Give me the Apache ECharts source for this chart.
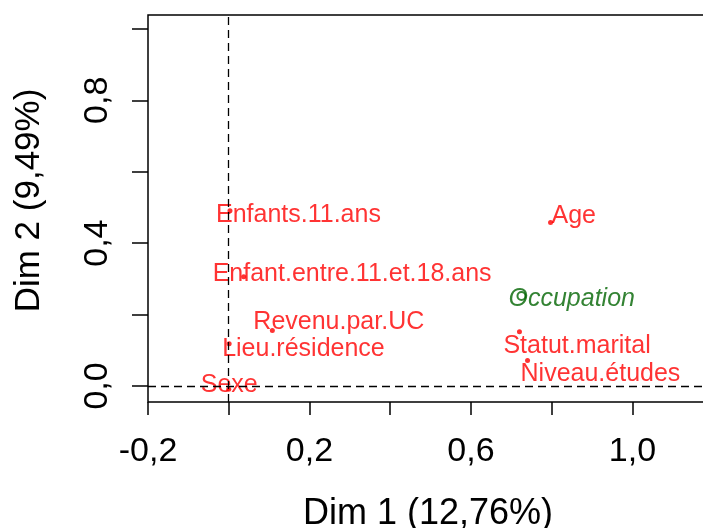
<!DOCTYPE html>
<html>
<head>
<meta charset="utf-8">
<script src="https://cdn.jsdelivr.net/npm/echarts@6/dist/echarts.min.js"></script>
<style>
  html, body { margin: 0; padding: 0; background: #fff; }
  #chart { width: 703px; height: 528px; }
</style>
</head>
<body>
<div id="chart"></div>
<script>
// active variables (coordinates on Dim 1 / Dim 2)
const varNames = ['Enfants.11.ans', 'Enfant.entre.11.et.18.ans', 'Revenu.par.UC', 'Lieu.résidence',
  'Sexe', 'Age', 'Statut.marital', 'Niveau.études']
const dim1 = [0.003, 0.037, 0.108, 0.001, 0.000, 0.797, 0.720, 0.740]
const dim2 = [0.491, 0.306, 0.155, 0.118, -0.009, 0.458, 0.152, 0.071]

// supplementary variable
const suppNames = ['Occupation']
const suppDim1 = [0.725]
const suppDim2 = [0.252]

const xTicks = [-0.2, 0, 0.2, 0.4, 0.6, 0.8, 1.0]
const xLabels = [-0.2, 0.2, 0.6, 1.0]
const yTicks = [0, 0.2, 0.4, 0.6, 0.8, 1.0]
const yLabels = [0, 0.4, 0.8]

// label placement (left edge / vertical middle relative to the point)
const labelShift = {
  'Enfants.11.ans': [-14, 4],
  'Enfant.entre.11.et.18.ans': [-31, -3],
  'Revenu.par.UC': [-19, -8],
  'Lieu.résidence': [-7, 5],
  'Sexe': [-28, -4],
  'Age': [1, -6],
  'Statut.marital': [-16, 14],
  'Niveau.études': [-7, 14],
  'Occupation': [-13, 3]
}

const fmt = v => v.toFixed(1).replace('.', ',')
const font = 'Liberation Sans, Arial, sans-serif'

function points(names, xs, ys) {
  return names.map((n, i) => ({
    name: n,
    value: [xs[i], ys[i]],
    label: { offset: labelShift[n] }
  }))
}

const chart = echarts.init(document.getElementById('chart'))
chart.setOption({
  animation: false,
  grid: {
    left: 148, top: 15, right: -5, bottom: 126,
    outerBoundsMode: 'none',
    containLabel: false,
    show: true, borderColor: '#000', borderWidth: 1.5
  },
  xAxis: {
    type: 'value',
    min: -0.2,
    max: 1.187,
    name: 'Dim 1 (12,76%)',
    nameLocation: 'middle',
    nameGap: 94,
    nameTextStyle: { fontFamily: font, fontSize: 36, color: '#000' },
    axisLine: { show: false, onZero: false },
    axisTick: { show: true, length: 13, customValues: xTicks, lineStyle: { color: '#000', width: 1.5 } },
    axisLabel: { customValues: xLabels, formatter: fmt, fontFamily: font, fontSize: 34, color: '#000', margin: 33 },
    splitLine: { show: false }
  },
  yAxis: {
    type: 'value',
    min: -0.045,
    max: 1.039,
    name: 'Dim 2 (9,49%)',
    nameLocation: 'middle',
    nameGap: 101,
    nameRotate: 90,
    nameTextStyle: { fontFamily: font, fontSize: 35, color: '#000', padding: [0, 0, 0, 16] },
    axisLine: { show: false, onZero: false },
    axisTick: { show: true, length: 16, customValues: yTicks, lineStyle: { color: '#000', width: 1.5 } },
    axisLabel: { customValues: yLabels, formatter: fmt, rotate: 90, fontFamily: font, fontSize: 34, color: '#000', margin: 33 },
    splitLine: { show: false }
  },
  series: [
    {
      type: 'scatter',
      data: points(varNames, dim1, dim2),
      symbol: 'circle',
      symbolSize: 5,
      itemStyle: { color: '#ff0000' },
      label: {
        show: true,
        position: 'inside',
        align: 'left',
        verticalAlign: 'middle',
        formatter: p => p.name,
        fontFamily: font,
        fontSize: 25,
        color: '#ff0000'
      },
      markLine: {
        silent: true,
        symbol: 'none',
        label: { show: false },
        lineStyle: { color: '#000', type: [8, 5], width: 1.3 },
        data: [{ xAxis: 0 }, { yAxis: 0 }]
      }
    },
    {
      type: 'scatter',
      data: points(suppNames, suppDim1, suppDim2),
      symbol: 'emptyCircle',
      symbolSize: 8,
      itemStyle: { color: '#006400', borderWidth: 1.5 },
      label: {
        show: true,
        position: 'inside',
        align: 'left',
        verticalAlign: 'middle',
        formatter: p => p.name,
        fontFamily: font,
        fontStyle: 'italic',
        fontSize: 25,
        color: '#006400'
      }
    }
  ]
})
</script>
</body>
</html>
